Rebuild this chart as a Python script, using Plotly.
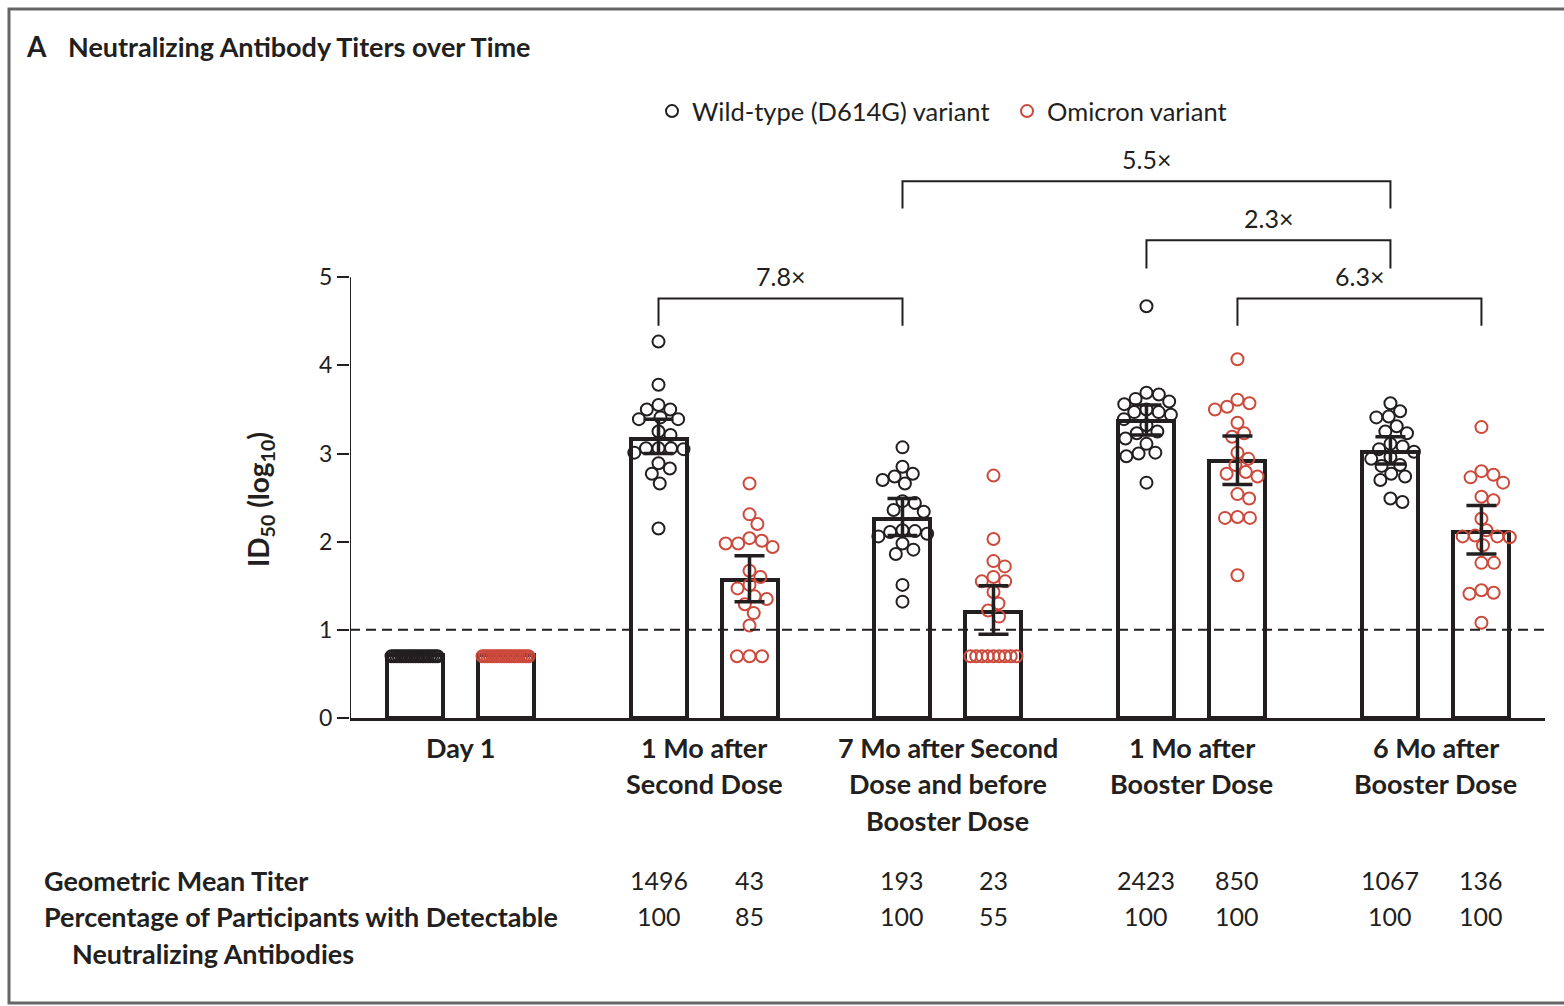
import math
import numpy as np
import plotly.graph_objects as go

# ---------------- data ----------------
groups = ["Day 1", "1 Mo after Second Dose", "7 Mo after Second Dose and before Booster Dose",
          "1 Mo after Booster Dose", "6 Mo after Booster Dose"]
group_label_lines = [["Day 1"],
                     ["1 Mo after", "Second Dose"],
                     ["7 Mo after Second", "Dose and before", "Booster Dose"],
                     ["1 Mo after", "Booster Dose"],
                     ["6 Mo after", "Booster Dose"]]
LOD_VALUE = 0.7

wt_points = [
    [0.7] * 20,
    [4.27, 3.78, 3.55, 3.50, 3.50, 3.41, 3.39, 3.39, 3.25, 3.21, 3.06, 3.06, 3.06, 3.05, 3.01,
     2.89, 2.83, 2.77, 2.66, 2.15],
    [3.07, 2.85, 2.77, 2.74, 2.70, 2.66, 2.46, 2.44, 2.36, 2.34, 2.13, 2.12, 2.11, 2.09, 2.06,
     1.98, 1.91, 1.86, 1.51, 1.32],
    [4.67, 3.69, 3.67, 3.62, 3.59, 3.56, 3.50, 3.47, 3.47, 3.44, 3.39, 3.32, 3.25, 3.23, 3.17,
     3.11, 3.01, 3.00, 2.97, 2.67],
    [3.57, 3.48, 3.42, 3.41, 3.31, 3.25, 3.23, 3.11, 3.08, 3.05, 3.02, 2.96, 2.94, 2.87, 2.86,
     2.77, 2.74, 2.70, 2.49, 2.45],
]
om_points = [
    [0.7] * 20,
    [2.66, 2.31, 2.20, 2.04, 2.01, 1.98, 1.98, 1.94, 1.67, 1.60, 1.51, 1.47, 1.38, 1.35, 1.29,
     1.19, 1.05, 0.7, 0.7, 0.7],
    [2.75, 2.03, 1.78, 1.72, 1.60, 1.55, 1.55, 1.43, 1.30, 1.22, 1.15] + [0.7] * 9,
    [4.07, 3.61, 3.57, 3.53, 3.50, 3.35, 3.23, 3.19, 3.01, 2.94, 2.87, 2.79, 2.77, 2.74, 2.54,
     2.49, 2.28, 2.27, 2.27, 1.62],
    [3.30, 2.80, 2.76, 2.73, 2.67, 2.51, 2.47, 2.26, 2.13, 2.07, 2.06, 2.06, 2.05, 1.96, 1.76,
     1.76, 1.45, 1.42, 1.41, 1.08],
]

wt_bar = [0.71, 3.16, 2.26, 3.37, 3.02]
om_bar = [0.71, 1.565, 1.205, 2.91, 2.11]
# 95% CI (groups 1..4)
wt_ci_hi = [None, 3.39, 2.49, 3.55, 3.19]
wt_ci_lo = [None, 3.00, 2.07, 3.21, 2.88]
om_ci_hi = [None, 1.84, 1.50, 3.20, 2.41]
om_ci_lo = [None, 1.32, 0.95, 2.65, 1.86]

gmt_wt = ["", "1496", "193", "2423", "1067"]
gmt_om = ["", "43", "23", "850", "136"]
pct_wt = ["", "100", "100", "100", "100"]
pct_om = ["", "85", "55", "100", "100"]

# fold-change brackets: (from group, from variant, to group, to variant, level, leg end, label)
brackets = [
    (1, "wt", 2, "wt", 4.76, 4.45, "7.8×"),
    (2, "wt", 4, "wt", 6.09, 5.78, "5.5×"),
    (3, "wt", 4, "wt", 5.42, 5.10, "2.3×"),
    (3, "om", 4, "om", 4.76, 4.45, "6.3×"),
]

# ---------------- layout constants ----------------
W, H = 1564, 1006
ML, MR, MT, MB = 350, 19, 145, 288
PW, PH = W - ML - MR, H - MT - MB
XMIN, XMAX = -0.451, 4.447
YMIN, YMAX = 0, 6.5
PXX = PW / (XMAX - XMIN)
PXY = PH / (YMAX - YMIN)
PAIR_OFF = 0.1865
BAR_W = 0.2295

BLACK = "#231f20"
RED = "#cc4a3c"
FONT = "Lato"


def px(xp):
    return (xp - ML) / PW


def py(yp):
    return (H - MB - yp) / PH


def swarm(vals, d=12.5, lod_half=23.0):
    ys = np.array(vals, dtype=float) * PXY
    offs = np.zeros(len(vals))
    lod_idx = [i for i, v in enumerate(vals) if abs(v - LOD_VALUE) < 1e-9]
    k = len(lod_idx)
    if k > 1:
        sp = min(d, 2 * lod_half / (k - 1))
        for j, i in enumerate(lod_idx):
            offs[i] = (j - (k - 1) / 2) * sp
    placed = list(lod_idx)
    rest = sorted([i for i in range(len(vals)) if i not in lod_idx], key=lambda i: -vals[i])
    for i in rest:
        cands = [0.0]
        for j in placed:
            dy = ys[i] - ys[j]
            if abs(dy) < d:
                dx = math.sqrt(d * d - dy * dy)
                cands += [offs[j] + dx, offs[j] - dx]
        cands.sort(key=lambda c: (round(abs(c), 6), -c))
        for c in cands:
            if all((c - offs[j]) ** 2 + (ys[i] - ys[j]) ** 2 >= d * d - 1e-6 for j in placed):
                offs[i] = c
                break
        placed.append(i)
    return offs / PXX


def xpos(g, var):
    return g + (-PAIR_OFF if var == "wt" else PAIR_OFF)


fig = go.Figure()

# bars
for var, bars in (("wt", wt_bar), ("om", om_bar)):
    fig.add_trace(go.Bar(
        x=[xpos(g, var) for g in range(len(groups))], y=bars, width=BAR_W,
        marker=dict(color="white", line=dict(color=BLACK, width=4)),
        showlegend=False, hoverinfo="skip"))

# points
for var, pts, col, name in (("wt", wt_points, BLACK, "Wild-type (D614G) variant"),
                            ("om", om_points, RED, "Omicron variant")):
    xs, ys = [], []
    for g, vals in enumerate(pts):
        offs = swarm(vals)
        xs += list(xpos(g, var) + offs)
        ys += list(vals)
    fig.add_trace(go.Scatter(
        x=xs, y=ys, mode="markers", name=name,
        marker=dict(symbol="circle-open", size=12, color=col, line=dict(width=2, color=col)),
        showlegend=True))

# error bars
for var, bars, hi, lo in (("wt", wt_bar, wt_ci_hi, wt_ci_lo), ("om", om_bar, om_ci_hi, om_ci_lo)):
    gs = [g for g in range(len(groups)) if hi[g] is not None]
    fig.add_trace(go.Scatter(
        x=[xpos(g, var) for g in gs], y=[bars[g] for g in gs], mode="markers",
        marker=dict(size=1, color="rgba(0,0,0,0)"),
        error_y=dict(type="data", symmetric=False,
                     array=[hi[g] - bars[g] for g in gs],
                     arrayminus=[bars[g] - lo[g] for g in gs],
                     color=BLACK, thickness=3.5, width=15),
        showlegend=False, hoverinfo="skip"))

shapes = []
# y axis line 0..5
shapes.append(dict(type="line", xref="x", yref="y", x0=XMIN, x1=XMIN, y0=0, y1=5,
                   line=dict(color=BLACK, width=2)))
# dashed detection line
shapes.append(dict(type="line", xref="x", yref="y", x0=XMIN, x1=XMAX, y0=1, y1=1,
                   line=dict(color=BLACK, width=2, dash="10px,6px")))
annotations = []
for g1, v1, g2, v2, top, leg, lab in brackets:
    x1, x2 = xpos(g1, v1), xpos(g2, v2)
    shapes.append(dict(type="path", xref="x", yref="y",
                       path=f"M {x1} {leg} L {x1} {top} L {x2} {top} L {x2} {leg}",
                       line=dict(color=BLACK, width=2)))
    annotations.append(dict(x=(x1 + x2) / 2, y=top, xref="x", yref="y", text=lab,
                            showarrow=False, yanchor="bottom", yshift=5,
                            font=dict(family=FONT, size=25, color=BLACK)))

# frame around figure
shapes.append(dict(type="path", xref="paper", yref="paper",
                   path=f"M {px(1570)} {py(9)} L {px(9)} {py(9)} L {px(9)} {py(1003)} L {px(1570)} {py(1003)}",
                   line=dict(color="#666666", width=3)))

# title
annotations.append(dict(x=px(24), y=py(46), xref="paper", yref="paper", xanchor="left", yanchor="middle",
                        text="<b>A</b>", showarrow=False, font=dict(family=FONT, size=28, color=BLACK)))
annotations.append(dict(x=px(66), y=py(46), xref="paper", yref="paper", xanchor="left", yanchor="middle",
                        text="<b>Neutralizing Antibody Titers over Time</b>", showarrow=False,
                        font=dict(family=FONT, size=27, color=BLACK)))

# y axis title
annotations.append(dict(x=px(260), y=py(500), xref="paper", yref="paper", xanchor="center",
                        yanchor="middle", textangle=-90,
                        text="<b>ID<sub>50</sub> (log<sub>10</sub>)</b>", showarrow=False,
                        font=dict(family=FONT, size=28, color=BLACK)))

# category labels
line_y = [747, 783, 820]
for g, lines in enumerate(group_label_lines):
    for k, t in enumerate(lines):
        annotations.append(dict(x=g, y=py(line_y[k]), xref="x", yref="paper", yanchor="middle",
                                text=f"<b>{t}</b>", showarrow=False,
                                font=dict(family=FONT, size=27, color=BLACK)))

# table
row_y = [880, 916]
annotations.append(dict(x=px(42), y=py(row_y[0]), xref="paper", yref="paper", xanchor="left",
                        yanchor="middle", text="<b>Geometric Mean Titer</b>", showarrow=False,
                        font=dict(family=FONT, size=27, color=BLACK)))
annotations.append(dict(x=px(42), y=py(row_y[1]), xref="paper", yref="paper", xanchor="left",
                        yanchor="middle", text="<b>Percentage of Participants with Detectable</b>",
                        showarrow=False, font=dict(family=FONT, size=27, color=BLACK)))
annotations.append(dict(x=px(70), y=py(953), xref="paper", yref="paper", xanchor="left",
                        yanchor="middle", text="<b>Neutralizing Antibodies</b>",
                        showarrow=False, font=dict(family=FONT, size=27, color=BLACK)))
for g in range(1, len(groups)):
    for var, gm, pc in (("wt", gmt_wt, pct_wt), ("om", gmt_om, pct_om)):
        for ry, txt in ((row_y[0], gm[g]), (row_y[1], pc[g])):
            annotations.append(dict(x=xpos(g, var), y=py(ry), xref="x", yref="paper",
                                    yanchor="middle", text=txt, showarrow=False,
                                    font=dict(family=FONT, size=25, color=BLACK)))

fig.update_layout(
    width=W, height=H, margin=dict(l=ML, r=MR, t=MT, b=MB, autoexpand=False),
    paper_bgcolor="white", plot_bgcolor="white",
    font=dict(family=FONT, color=BLACK),
    barmode="overlay", bargap=0,
    xaxis=dict(range=[XMIN, XMAX], showgrid=False, zeroline=False, showticklabels=False,
               ticks="", showline=True, linecolor=BLACK, linewidth=2.5, fixedrange=True),
    yaxis=dict(range=[YMIN, YMAX], showgrid=False, zeroline=False, showline=False,
               tickvals=[0, 1, 2, 3, 4, 5], ticktext=["0", "1", "2", "3", "4", "5"],
               ticks="outside", ticklen=12, tickwidth=2, tickcolor=BLACK,
               tickfont=dict(family=FONT, size=23, color=BLACK),
               fixedrange=True),
    legend=dict(orientation="h", x=px(652), y=py(88), xanchor="left", yanchor="top",
                font=dict(family=FONT, size=25.5, color=BLACK), bgcolor="rgba(0,0,0,0)",
                itemwidth=30, entrywidth=310, entrywidthmode="pixels", tracegroupgap=0),
    shapes=shapes, annotations=annotations,
)

fig.write_html("out.html")
